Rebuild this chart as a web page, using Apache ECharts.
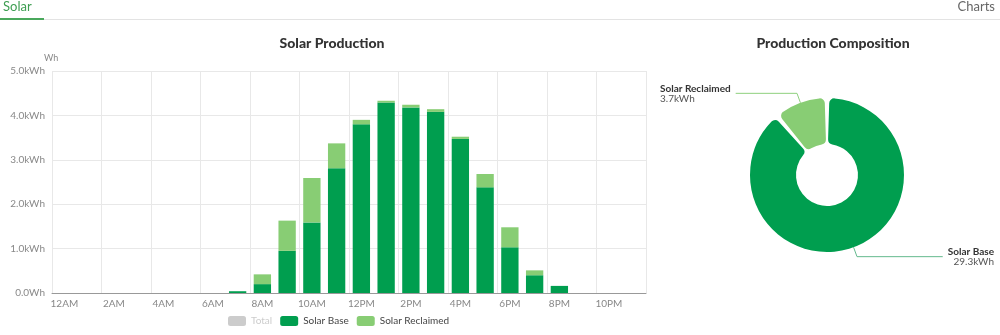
<!DOCTYPE html>
<html>
<head>
<meta charset="utf-8">
<script src="https://cdn.jsdelivr.net/npm/echarts@6/dist/echarts.min.js"></script>
<style>
html,body{margin:0;padding:0;background:#fff;}
#c{width:1000px;height:335px;}
</style>
</head>
<body>
<div id="c"></div>
<script>
// ---- data ----
var hours = ['12AM','1AM','2AM','3AM','4AM','5AM','6AM','7AM','8AM','9AM','10AM','11AM',
             '12PM','1PM','2PM','3PM','4PM','5PM','6PM','7PM','8PM','9PM','10PM','11PM'];
// Wh per hour
var solarBase = [0,0,0,0,0,0,0,40,200,950,1590,2810,3800,4290,4180,4080,3470,2380,1030,400,160,0,0,0];
var solarReclaimed = [0,0,0,0,0,0,0,0,220,680,1000,560,100,40,60,60,50,300,450,110,0,0,0,0];
var pieNames = ['Solar Base','Solar Reclaimed'];
var pieValues = [29.3, 3.7]; // kWh

var total = solarBase.map(function(v,i){return v + solarReclaimed[i];});
var DARK = '#009e4f', LIGHT = '#88cd74';
var FONT = 'Lato, "Open Sans", sans-serif';

var chart = echarts.init(document.getElementById('c'), null, {renderer:'canvas'});
chart.setOption({
  animation:false,
  textStyle:{fontFamily:FONT},
  title:[
    {text:'Solar Production', left:327, top:31, textAlign:'center',
     textStyle:{fontSize:14, fontWeight:900, color:'#333', fontFamily:FONT}},
    {text:'Production Composition', left:828, top:31, textAlign:'center',
     textStyle:{fontSize:14, fontWeight:900, color:'#333', fontFamily:FONT}}
  ],
  graphic:[
    {type:'rect', left:0, top:19, shape:{width:1000, height:1}, style:{fill:'#e3e3e3'}},
    {type:'rect', left:0, top:18, shape:{width:44, height:2}, style:{fill:'#4aa85c'}},
    {type:'text', left:3, top:0, style:{text:'Solar', fill:'#3e9e52', font:'13px ' + FONT}},
    {type:'text', right:5, top:0, style:{text:'Charts', fill:'#666', font:'13px ' + FONT}}
  ],
  legend:{
    left:223, bottom:4, itemWidth:18, itemHeight:10, itemGap:8,
    icon:'roundRect',
    data:['Total','Solar Base','Solar Reclaimed'],
    selected:{'Total':false},
    inactiveColor:'#ccc',
    textStyle:{fontSize:10, color:'#444', fontFamily:FONT}
  },
  grid:{left:52, right:354, top:71, bottom:42},
  xAxis:{
    type:'category', data:hours, boundaryGap:true,
    axisLine:{lineStyle:{color:'#999'}},
    axisTick:{interval:1, lineStyle:{color:'#999'}, length:4},
    axisLabel:{interval:1, color:'#888', fontSize:10, margin:6},
    splitLine:{show:true, interval:1, lineStyle:{color:'#e8e8e8'}}
  },
  yAxis:{
    type:'value', min:0, max:5000, interval:1000,
    name:'Wh', nameGap:8, nameTextStyle:{color:'#888', fontSize:9, align:'left', padding:[0,0,0,-8]},
    axisLine:{show:false}, axisTick:{show:false},
    axisLabel:{color:'#888', fontSize:10, margin:7,
      formatter:function(v){return v===0 ? '0.0Wh' : (v/1000).toFixed(1)+'kWh';}},
    splitLine:{lineStyle:{color:'#e8e8e8'}}
  },
  series:[
    {name:'Total', type:'bar', data:total, barGap:'-100%', itemStyle:{color:'#ccc'}, barWidth:'70%', z:1},
    {name:'Solar Base', type:'bar', stack:'s', data:solarBase, barWidth:'70%', itemStyle:{color:DARK}},
    {name:'Solar Reclaimed', type:'bar', stack:'s', data:solarReclaimed, barWidth:'70%', itemStyle:{color:LIGHT}},
    {
      name:'Composition', type:'pie',
      left:657, right:3, top:60, height:230,
      center:['50%','50%'], radius:[31,77],
      startAngle:90, clockwise:true, padAngle:3.5,
      itemStyle:{borderRadius:5},
      data:[
        {name:pieNames[0], value:pieValues[0], itemStyle:{color:DARK}, labelLine:{lineStyle:{color:'#64b98e'}}},
        {name:pieNames[1], value:pieValues[1], itemStyle:{color:LIGHT}, labelLine:{lineStyle:{color:'#8ed07e'}}}
      ],
      label:{
        alignTo:'edge', edgeDistance:3, overflow:'none',
        formatter:function(p){return '{n|'+p.name+'}\n{v|'+p.value.toFixed(1)+'kWh}';},
        rich:{
          n:{fontSize:10, fontWeight:'bold', color:'#333', fontFamily:FONT, lineHeight:10},
          v:{fontSize:10, color:'#555', fontFamily:FONT, lineHeight:10}
        }
      },
      labelLine:{length:10, length2:60, lineStyle:{width:1}}
    }
  ]
});
</script>
</body>
</html>
